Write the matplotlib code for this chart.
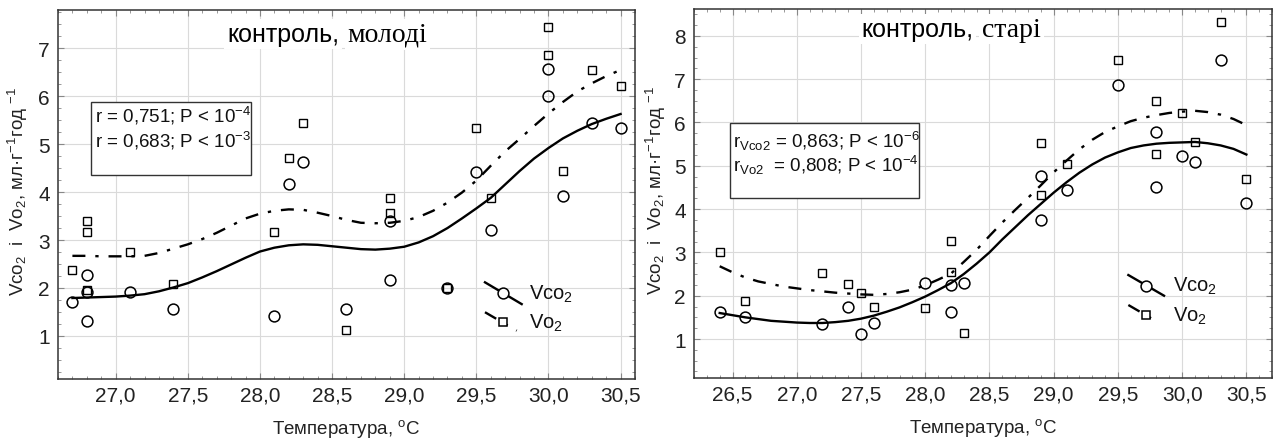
import numpy as np
import matplotlib.pyplot as plt
from matplotlib.patches import Rectangle
from matplotlib.ticker import MultipleLocator, FuncFormatter

plt.rcParams['font.family'] = ['Liberation Sans', 'DejaVu Sans']
plt.rcParams['mathtext.fontset'] = 'custom'
plt.rcParams['mathtext.rm'] = 'Liberation Sans'
plt.rcParams['mathtext.it'] = 'Liberation Sans:italic'
plt.rcParams['mathtext.bf'] = 'Liberation Sans:bold'

# young control group
temp_young = [26.7, 26.8, 26.8, 26.8, 27.1, 27.4, 28.1, 28.2, 28.3, 28.6,
              28.9, 28.9, 29.3, 29.5, 29.6, 30.0, 30.0, 30.1, 30.3, 30.5]
vco2_young = [1.71, 2.28, 1.92, 1.30, 1.91, 1.56, 1.42, 4.17, 4.62, 1.56,
              3.40, 2.17, 1.99, 4.43, 3.21, 6.56, 6.00, 3.91, 5.44, 5.33]
vo2_young = [2.37, 3.40, 3.16, 1.95, 2.74, 2.08, 3.16, 4.71, 5.45, 1.12,
             3.87, 3.56, 2.00, 5.33, 3.87, 7.44, 6.86, 4.44, 6.55, 6.21]

# smoothed curves for the young group
fit_t_young = [26.7, 26.8, 26.9, 27.0, 27.1, 27.2, 27.3, 27.4, 27.5, 27.6,
               27.7, 27.8, 27.9, 28.0, 28.1, 28.2, 28.3, 28.4, 28.5, 28.6,
               28.7, 28.8, 28.9, 29.0, 29.1, 29.2, 29.3, 29.4, 29.5, 29.6,
               29.7, 29.8, 29.9, 30.0, 30.1, 30.2, 30.3, 30.4, 30.5]
fit_co2_young = [1.79, 1.80, 1.81, 1.82, 1.84, 1.87, 1.93, 2.01, 2.10, 2.22,
                 2.35, 2.49, 2.63, 2.76, 2.84, 2.89, 2.91, 2.90, 2.87, 2.84,
                 2.81, 2.80, 2.82, 2.86, 2.95, 3.08, 3.25, 3.45, 3.66, 3.88,
                 4.16, 4.44, 4.70, 4.92, 5.12, 5.28, 5.42, 5.53, 5.63]
fit_o2_young = [2.67, 2.67, 2.66, 2.66, 2.66, 2.67, 2.73, 2.82, 2.91, 3.02,
                3.15, 3.30, 3.45, 3.55, 3.61, 3.64, 3.63, 3.57, 3.50, 3.42,
                3.36, 3.35, 3.36, 3.40, 3.48, 3.61, 3.78, 3.99, 4.24, 4.55,
                4.85, 5.11, 5.38, 5.64, 5.88, 6.10, 6.27, 6.42, 6.55]

# old control group
temp_old = [26.4, 26.6, 27.2, 27.4, 27.5, 27.6, 28.0, 28.2, 28.2, 28.3,
            28.9, 28.9, 29.1, 29.5, 29.8, 29.8, 30.0, 30.1, 30.3, 30.5]
vco2_old = [1.62, 1.50, 1.35, 1.75, 1.12, 1.36, 2.29, 2.25, 1.62, 2.29,
            4.77, 3.75, 4.45, 6.86, 5.79, 4.51, 5.22, 5.09, 7.44, 4.13]
vo2_old = [3.01, 1.87, 2.52, 2.26, 2.06, 1.75, 1.72, 3.27, 2.55, 1.15,
           5.52, 4.33, 5.04, 7.45, 6.49, 5.27, 6.22, 5.56, 8.32, 4.69]

fit_t_old = [26.4, 26.5, 26.6, 26.7, 26.8, 26.9, 27.0, 27.1, 27.2, 27.3,
             27.4, 27.5, 27.6, 27.7, 27.8, 27.9, 28.0, 28.1, 28.2, 28.3,
             28.4, 28.5, 28.6, 28.7, 28.8, 28.9, 29.0, 29.1, 29.2, 29.3,
             29.4, 29.5, 29.6, 29.7, 29.8, 29.9, 30.0, 30.1, 30.2, 30.3,
             30.4, 30.5]
fit_co2_old = [1.60, 1.55, 1.50, 1.46, 1.42, 1.40, 1.38, 1.37, 1.37, 1.39,
               1.42, 1.47, 1.54, 1.63, 1.73, 1.85, 1.98, 2.13, 2.29, 2.50,
               2.74, 3.00, 3.30, 3.58, 3.86, 4.12, 4.38, 4.62, 4.84, 5.03,
               5.19, 5.31, 5.41, 5.47, 5.51, 5.53, 5.54, 5.55, 5.52, 5.47,
               5.39, 5.26]
fit_o2_old = [2.68, 2.54, 2.42, 2.33, 2.27, 2.21, 2.17, 2.13, 2.10, 2.07,
              2.05, 2.03, 2.02, 2.04, 2.08, 2.14, 2.24, 2.37, 2.51, 2.78,
              3.06, 3.38, 3.69, 3.98, 4.26, 4.55, 4.85, 5.12, 5.38, 5.60,
              5.78, 5.91, 6.03, 6.11, 6.17, 6.22, 6.25, 6.27, 6.24, 6.18,
              6.08, 5.94]

xticks_young = [27.0, 27.5, 28.0, 28.5, 29.0, 29.5, 30.0, 30.5]
xticks_old = [26.5, 27.0, 27.5, 28.0, 28.5, 29.0, 29.5, 30.0, 30.5]
yticks_young = [1, 2, 3, 4, 5, 6, 7]
yticks_old = [1, 2, 3, 4, 5, 6, 7, 8]

stats_young = ['r = 0,751; P < 10$^{-4}$', 'r = 0,683; P < 10$^{-3}$']
stats_old = ['r$_{\\mathrm{Vco2}}$ = 0,863; P < 10$^{-6}$',
             'r$_{\\mathrm{Vo2}}$  = 0,808; P < 10$^{-4}$']

O2_DASH = (0, (5.5, 4.2, 1.4, 4.2))


def draw_panel(ax, temp, vco2, vo2, fit_t, fit_co2, fit_o2, xlim, ylim,
               xticks, yticks, word, stats, box, text_pos, title_pos,
               legend_pos, ylabel_x):
    ax.plot(fit_t, fit_co2, color='black', lw=1.7, zorder=3)
    ax.plot(fit_t, fit_o2, color='black', lw=1.7, linestyle=O2_DASH, zorder=3)
    ax.plot(temp, vco2, 'o', mfc='none', mec='black', ms=7.8, mew=1.1, zorder=4)
    ax.plot(temp, vo2, 's', mfc='none', mec='black', ms=5.3, mew=1.0, zorder=4)

    ax.set_xlim(*xlim)
    ax.set_ylim(*ylim)
    ax.set_xticks(xticks)
    ax.set_yticks(yticks)
    ax.xaxis.set_major_formatter(FuncFormatter(lambda v, p: f"{v:.1f}".replace('.', ',')))
    ax.xaxis.set_minor_locator(MultipleLocator(0.1))
    ax.yaxis.set_minor_locator(MultipleLocator(0.25))
    ax.grid(True, which='major', color='#dadada', lw=0.8, zorder=0)
    ax.tick_params(which='both', direction='in', top=True, right=True,
                   color='#888888')
    ax.tick_params(which='major', length=4, width=0.8)
    ax.tick_params(which='minor', length=2.5, width=0.6)
    ax.tick_params(axis='y', labelsize=15, pad=6, labelcolor='#222222')
    ax.tick_params(axis='x', labelsize=15, pad=4.5, labelcolor='#222222')
    for s in ax.spines.values():
        s.set_color('#333333')
        s.set_linewidth(1.1)

    ax.set_xlabel('Температура, $^{\\mathrm{o}}$C', fontsize=13.5, color='#222222')
    ax.xaxis.set_label_coords(0.5, -0.103)
    ax.set_ylabel('Vco$_2$  і  Vo$_2$, мл·г$^{-1}$год $^{-1}$', fontsize=13.5,
                  color='#222222')
    ax.yaxis.set_label_coords(ylabel_x, 0.51)

    # title: sans-serif group name followed by serif age word
    t1 = ax.text(title_pos[0], title_pos[1], 'контроль,', transform=ax.transAxes,
                 fontsize=18, family='Liberation Sans', va='baseline',
                 zorder=5, bbox=dict(fc='white', ec='none', pad=2))
    ax.annotate(word, xy=(1, 0), xycoords=t1, xytext=(6, 3.8),
                textcoords='offset points', fontsize=20,
                family='Liberation Serif', va='baseline', zorder=5,
                bbox=dict(fc='white', ec='none', pad=2))

    # correlation box
    x0, y0, x1, y1 = box
    ax.add_patch(Rectangle((x0, y0), x1 - x0, y1 - y0, transform=ax.transAxes,
                           fc='white', ec='#333333', lw=1.0, zorder=5))
    for line, yy in zip(stats, text_pos[1]):
        ax.text(text_pos[0], yy, line, transform=ax.transAxes, fontsize=13.5,
                va='baseline', zorder=6, color='#111111')

    # legend with slanted line samples
    for (lx0, ly0, lx1, ly1, mx, my, ty), marker, ls, label in zip(
            legend_pos, ['o', 's'], ['-', O2_DASH], ['Vco$_2$', 'Vo$_2$']):
        ax.plot([lx0, lx1], [ly0, ly1], transform=ax.transAxes, color='black',
                lw=1.7, linestyle=ls, zorder=6)
        ax.plot([mx], [my], marker, transform=ax.transAxes, mfc='white',
                mec='black', ms=7.8 if marker == 'o' else 5.3, mew=1.1, zorder=7)
        ax.text(ty[0], ty[1], label, transform=ax.transAxes, fontsize=14.5,
                va='center', zorder=7, color='#111111')


fig = plt.figure(figsize=(12.8, 4.39), dpi=100)
ax1 = fig.add_axes([0.0453, 0.1344, 0.4508, 0.8405])
ax2 = fig.add_axes([0.5422, 0.1367, 0.4516, 0.8405])

draw_panel(ax1, temp_young, vco2_young, vo2_young,
           fit_t_young, fit_co2_young, fit_o2_young,
           (26.6, 30.6), (0.1, 7.8), xticks_young, yticks_young,
           'молоді', stats_young,
           (0.057, 0.5528, 0.3345, 0.7507), (0.064, [0.699, 0.631]),
           (0.293, 0.916),
           [(0.740, 0.262, 0.8036, 0.203, 0.7718, 0.2331, (0.816, 0.233)),
            (0.740, 0.181, 0.795, 0.131, 0.7718, 0.1534, (0.816, 0.153))],
           -0.0485)

draw_panel(ax2, temp_old, vco2_old, vo2_old,
           fit_t_old, fit_co2_old, fit_o2_old,
           (26.2, 30.7), (0.1, 8.62), xticks_old, yticks_old,
           'старі', stats_old,
           (0.0623, 0.4878, 0.389, 0.691), (0.0675, [0.626, 0.561]),
           (0.29, 0.927),
           [(0.7514, 0.279, 0.8131, 0.223, 0.782, 0.250, (0.829, 0.250)),
            (0.7514, 0.1978, 0.805, 0.149, 0.782, 0.1707, (0.829, 0.171))],
           -0.045)

fig.savefig('out.png', dpi=100)
